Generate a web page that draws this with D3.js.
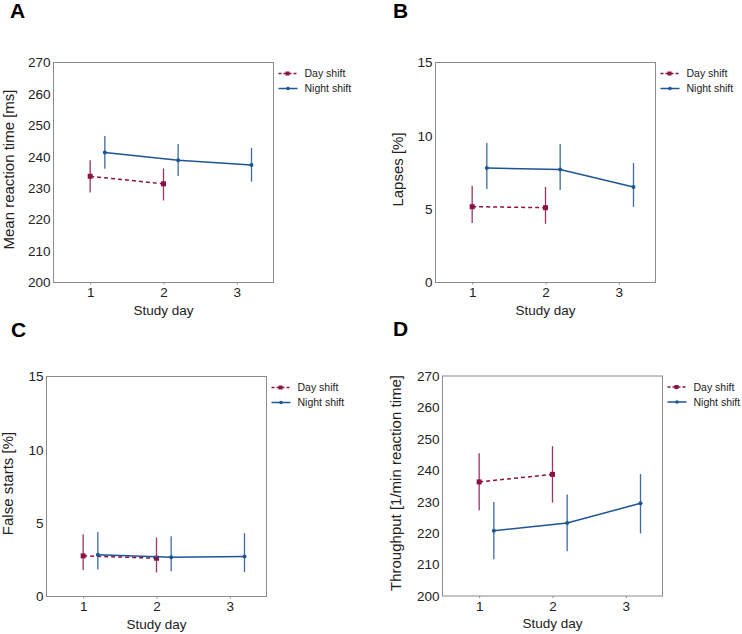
<!DOCTYPE html>
<html>
<head>
<meta charset="utf-8">
<script src="https://cdn.jsdelivr.net/npm/d3@7"></script>
<style>
  body { margin: 0; background: #fff; }
  svg { font-family: "Liberation Sans", Arial, sans-serif; }
</style>
</head>
<body>
<div id="chart"></div>
<script>
// study days and the small offset of the night shift points
const dayShiftDays = [1, 2];
const nightShiftDays = [1, 2, 3];
const nightOffset = 0.2;
const xTicks = [1, 2, 3];
const seriesNames = ["Day shift", "Night shift"];

// A - mean reaction time
const rtDayMean = [233.8, 231.4];
const rtDayLow = [228.6, 226.1];
const rtDayHigh = [238.9, 236.3];
const rtNightMean = [241.4, 238.9, 237.4];
const rtNightLow = [236.2, 233.9, 232.1];
const rtNightHigh = [246.6, 244.1, 242.8];

// B - lapses
const lapDayMean = [5.17, 5.1];
const lapDayLow = [4.06, 4.0];
const lapDayHigh = [6.6, 6.51];
const lapNightMean = [7.81, 7.71, 6.51];
const lapNightLow = [6.38, 6.31, 5.15];
const lapNightHigh = [9.51, 9.44, 8.15];

// C - false starts
const fsDayMean = [2.77, 2.61];
const fsDayLow = [1.8, 1.64];
const fsDayHigh = [4.25, 4.02];
const fsNightMean = [2.84, 2.68, 2.73];
const fsNightLow = [1.84, 1.73, 1.66];
const fsNightHigh = [4.39, 4.11, 4.32];

// D - throughput
const tpDayMean = [236.3, 238.7];
const tpDayLow = [227.3, 229.7];
const tpDayHigh = [245.4, 247.7];
const tpNightMean = [220.8, 223.2, 229.5];
const tpNightLow = [211.7, 214.2, 219.9];
const tpNightHigh = [229.9, 232.3, 238.8];

const msTicks = [200, 210, 220, 230, 240, 250, 260, 270];
const pctTicks = [0, 5, 10, 15];

const dayColor = "#8a1346";
const nightColor = "#1c5594";

function rows(xs, mean, low, high, off) {
    return xs.map((d, i) => ({ x: d + off, y: mean[i], lo: low[i], hi: high[i] }));
}

let panels = [
    { letter: "A", lx: 10, ly: 18, left: 53.5, top: 62.5, ylab: "Mean reaction time [ms]", yoff: 44.5,
      domain: [200, 270], ticks: msTicks,
      day: rows(dayShiftDays, rtDayMean, rtDayLow, rtDayHigh, 0),
      night: rows(nightShiftDays, rtNightMean, rtNightLow, rtNightHigh, nightOffset) },
    { letter: "B", lx: 393, ly: 18, left: 435.5, top: 62.5, ylab: "Lapses [%]", yoff: 38,
      domain: [0, 15], ticks: pctTicks,
      day: rows(dayShiftDays, lapDayMean, lapDayLow, lapDayHigh, 0),
      night: rows(nightShiftDays, lapNightMean, lapNightLow, lapNightHigh, nightOffset) },
    { letter: "C", lx: 11, ly: 337, left: 46.5, top: 376.5, ylab: "False starts [%]", yoff: 38.5,
      domain: [0, 15], ticks: pctTicks,
      day: rows(dayShiftDays, fsDayMean, fsDayLow, fsDayHigh, 0),
      night: rows(nightShiftDays, fsNightMean, fsNightLow, fsNightHigh, nightOffset) },
    { letter: "D", lx: 393, ly: 336, left: 442.5, top: 376, ylab: "Throughput [1/min reaction time]", yoff: 47,
      domain: [200, 270], ticks: msTicks,
      day: rows(dayShiftDays, tpDayMean, tpDayLow, tpDayHigh, 0),
      night: rows(nightShiftDays, tpNightMean, tpNightLow, tpNightHigh, nightOffset) }
];

let width = 742;
let height = 634;
let pw = 220, ph = 220;

let svg = d3.select("#chart").append("svg")
    .attr("width", width)
    .attr("height", height);

panels.forEach(function(p) {
    svg.append("text")
        .attr("x", p.lx).attr("y", p.ly)
        .style("font-size", "21px").style("font-weight", "bold")
        .text(p.letter);

    let g = svg.append("g").attr("transform", "translate(" + p.left + "," + p.top + ")");

    let x = d3.scaleLinear().domain([0.5, 3.5]).range([0, pw]);
    let y = d3.scaleLinear().domain(p.domain).range([ph, 0]);

    // axes
    let xa = g.append("g").attr("transform", "translate(0," + ph + ")")
        .call(d3.axisBottom(x).tickValues(xTicks).tickFormat(d3.format("d")).tickSize(2).tickPadding(3));
    let ya = g.append("g")
        .call(d3.axisLeft(y).tickValues(p.ticks).tickSize(0).tickPadding(3));
    [xa, ya].forEach(function(a) {
        a.select(".domain").remove();
        a.selectAll("line").attr("stroke", "#888");
        a.selectAll("text").style("font-size", "13.5px").attr("fill", "#222")
            .style("font-family", "'Liberation Sans', Arial, sans-serif");
    });

    g.append("rect")
        .attr("width", pw).attr("height", ph)
        .attr("fill", "none").attr("stroke", "#8a8a8a").attr("stroke-width", 1);

    // axis titles
    g.append("text")
        .attr("x", pw / 2).attr("y", ph + 32)
        .attr("text-anchor", "middle")
        .style("font-size", "13.5px").attr("fill", "#222")
        .text("Study day");
    g.append("text")
        .attr("transform", "translate(" + (-p.yoff) + "," + (ph / 2 - 3) + ") rotate(-90)")
        .attr("text-anchor", "middle").attr("dy", "0.35em")
        .style("font-size", "15px").attr("fill", "#222")
        .text(p.ylab);

    let line = d3.line().x(d => x(d.x)).y(d => y(d.y));

    let series = [
        { data: p.day, color: dayColor, dash: "4,3", shape: "square" },
        { data: p.night, color: nightColor, dash: null, shape: "circle" }
    ];

    series.forEach(function(s) {
        g.selectAll(null).data(s.data).join("line")
            .attr("x1", d => x(d.x)).attr("x2", d => x(d.x))
            .attr("y1", d => y(d.lo)).attr("y2", d => y(d.hi))
            .attr("stroke", s.color).attr("stroke-width", 1.3).attr("opacity", 0.85);

        g.append("path").datum(s.data)
            .attr("d", line)
            .attr("fill", "none").attr("stroke", s.color).attr("stroke-width", 1.5)
            .attr("stroke-dasharray", s.dash);

        if (s.shape === "square") {
            g.selectAll(null).data(s.data).join("rect")
                .attr("x", d => x(d.x) - 2.5).attr("y", d => y(d.y) - 2.5)
                .attr("width", 5).attr("height", 5).attr("fill", s.color);
        } else {
            g.selectAll(null).data(s.data).join("circle")
                .attr("cx", d => x(d.x)).attr("cy", d => y(d.y))
                .attr("r", 2).attr("fill", s.color);
        }
    });

    // legend
    let lg = g.append("g").attr("transform", "translate(" + (pw + 5) + ",11)");
    series.forEach(function(s, i) {
        let row = lg.append("g").attr("transform", "translate(0," + (i * 15) + ")");
        row.append("line").attr("x1", 0).attr("x2", 19)
            .attr("stroke", s.color).attr("stroke-width", 1.5)
            .attr("stroke-dasharray", s.dash ? "3,2" : null);
        if (s.shape === "square") {
            row.append("rect").attr("x", 7).attr("y", -2).attr("width", 4).attr("height", 4).attr("fill", s.color);
        } else {
            row.append("circle").attr("cx", 9.5).attr("cy", 0).attr("r", 1.8).attr("fill", s.color);
        }
        row.append("text").attr("x", 26).attr("dy", "0.35em")
            .style("font-size", "10.5px").attr("fill", "#222")
            .text(seriesNames[i]);
    });
});
</script>
</body>
</html>
